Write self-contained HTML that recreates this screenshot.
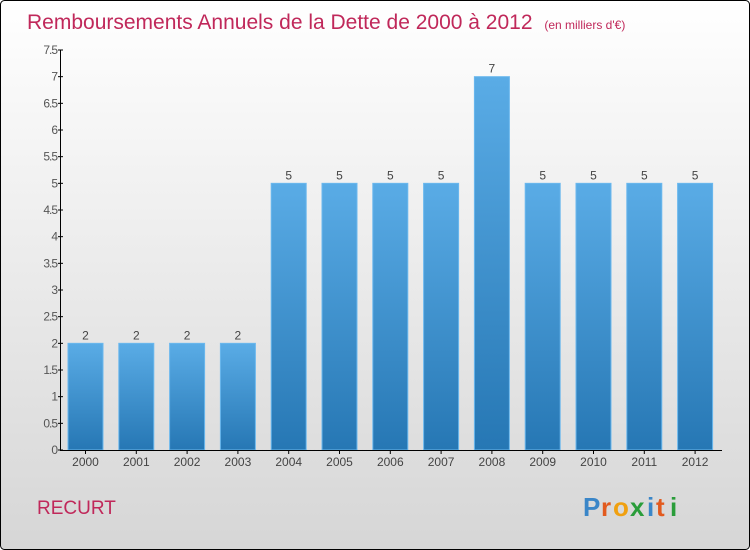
<!DOCTYPE html>
<html><head><meta charset="utf-8"><style>
body{margin:0}
#c{width:750px;height:550px;position:relative;overflow:hidden;font-family:"Liberation Sans",sans-serif}
</style></head><body>
<div id="c">
<svg width="750" height="550" xmlns="http://www.w3.org/2000/svg">
<defs>
<linearGradient id="bg" x1="0" y1="0" x2="0" y2="1"><stop offset="0" stop-color="#ffffff"/><stop offset="1" stop-color="#d6d6d6"/></linearGradient>
<linearGradient id="bar" x1="0" y1="0" x2="0" y2="1"><stop offset="0" stop-color="#5aace6"/><stop offset="1" stop-color="#2677b4"/></linearGradient>
</defs>
<rect x="0.5" y="0.5" width="749" height="549" rx="4" fill="url(#bg)" stroke="#000"/>
<text x="27" y="29" font-size="21" fill="#c0285a">Remboursements Annuels de la Dette de 2000 à 2012 <tspan font-size="12" dx="6">(en milliers d'€)</tspan></text>
<g id="plot"></g>
<text x="37" y="514" font-size="19" fill="#c0285a">RECURT</text>
<g font-size="26" font-weight="bold">
<text x="583" y="516" fill="#3a86c8">P</text><text x="601" y="516" fill="#e25a1e">r</text><text x="613" y="516" fill="#f0a010">o</text><text x="630" y="516" fill="#2a9d3a">x</text><text x="647" y="516" fill="#3a86c8">i</text><text x="656" y="516" fill="#e25a1e">t</text><text x="670" y="516" fill="#2a9d3a">i</text>
</g>
</svg>
</div>
<script>
const years=["2000","2001","2002","2003","2004","2005","2006","2007","2008","2009","2010","2011","2012"];
const values=[2,2,2,2,5,5,5,5,7,5,5,5,5];
const ticks=[0,0.5,1,1.5,2,2.5,3,3.5,4,4.5,5,5.5,6,6.5,7,7.5];
const NS="http://www.w3.org/2000/svg";
const g=document.getElementById('plot');
const y=v=>450-v*(400/7.5);
const x0=85.5,step=50.8,bw=35;
const x=i=>x0+i*step;
function mk(t,a,txt){const e=document.createElementNS(NS,t);for(const k in a)e.setAttribute(k,a[k]);if(txt!=null)e.textContent=txt;g.appendChild(e);return e;}
values.forEach((v,i)=>{
 const r=mk('rect',{x:x(i)-bw/2,y:y(v),width:bw,height:450-y(v),fill:'url(#bar)',stroke:'#6bb8ee','stroke-width':1});
 
 
 const t=mk('text',{x:x(i),y:y(v)-4,'text-anchor':'middle','font-size':12,fill:'#444'},String(v));
 
 
 const xl=mk('text',{x:x(i),y:466,'text-anchor':'middle','font-size':12,fill:'#444'},years[i]);
 
 
 const tk=mk('line',{x1:x(i),x2:x(i),y1:450,y2:454,stroke:'#000'});
 
 
});
ticks.forEach(v=>{
 const l=mk('line',{x1:58,x2:63,y1:y(v),y2:y(v),stroke:'#000'});
 
 
 const t=mk('text',{x:57,y:y(v)+4,'text-anchor':'end','font-size':12,fill:'#555','letter-spacing':'-1'},String(v));
 
 
});
const ya=mk('line',{x1:60.5,x2:60.5,y1:50,y2:450,stroke:'#000'});


const xa=mk('line',{x1:60,x2:722,y1:450.5,y2:450.5,stroke:'#000'});


</script>
</body></html>
